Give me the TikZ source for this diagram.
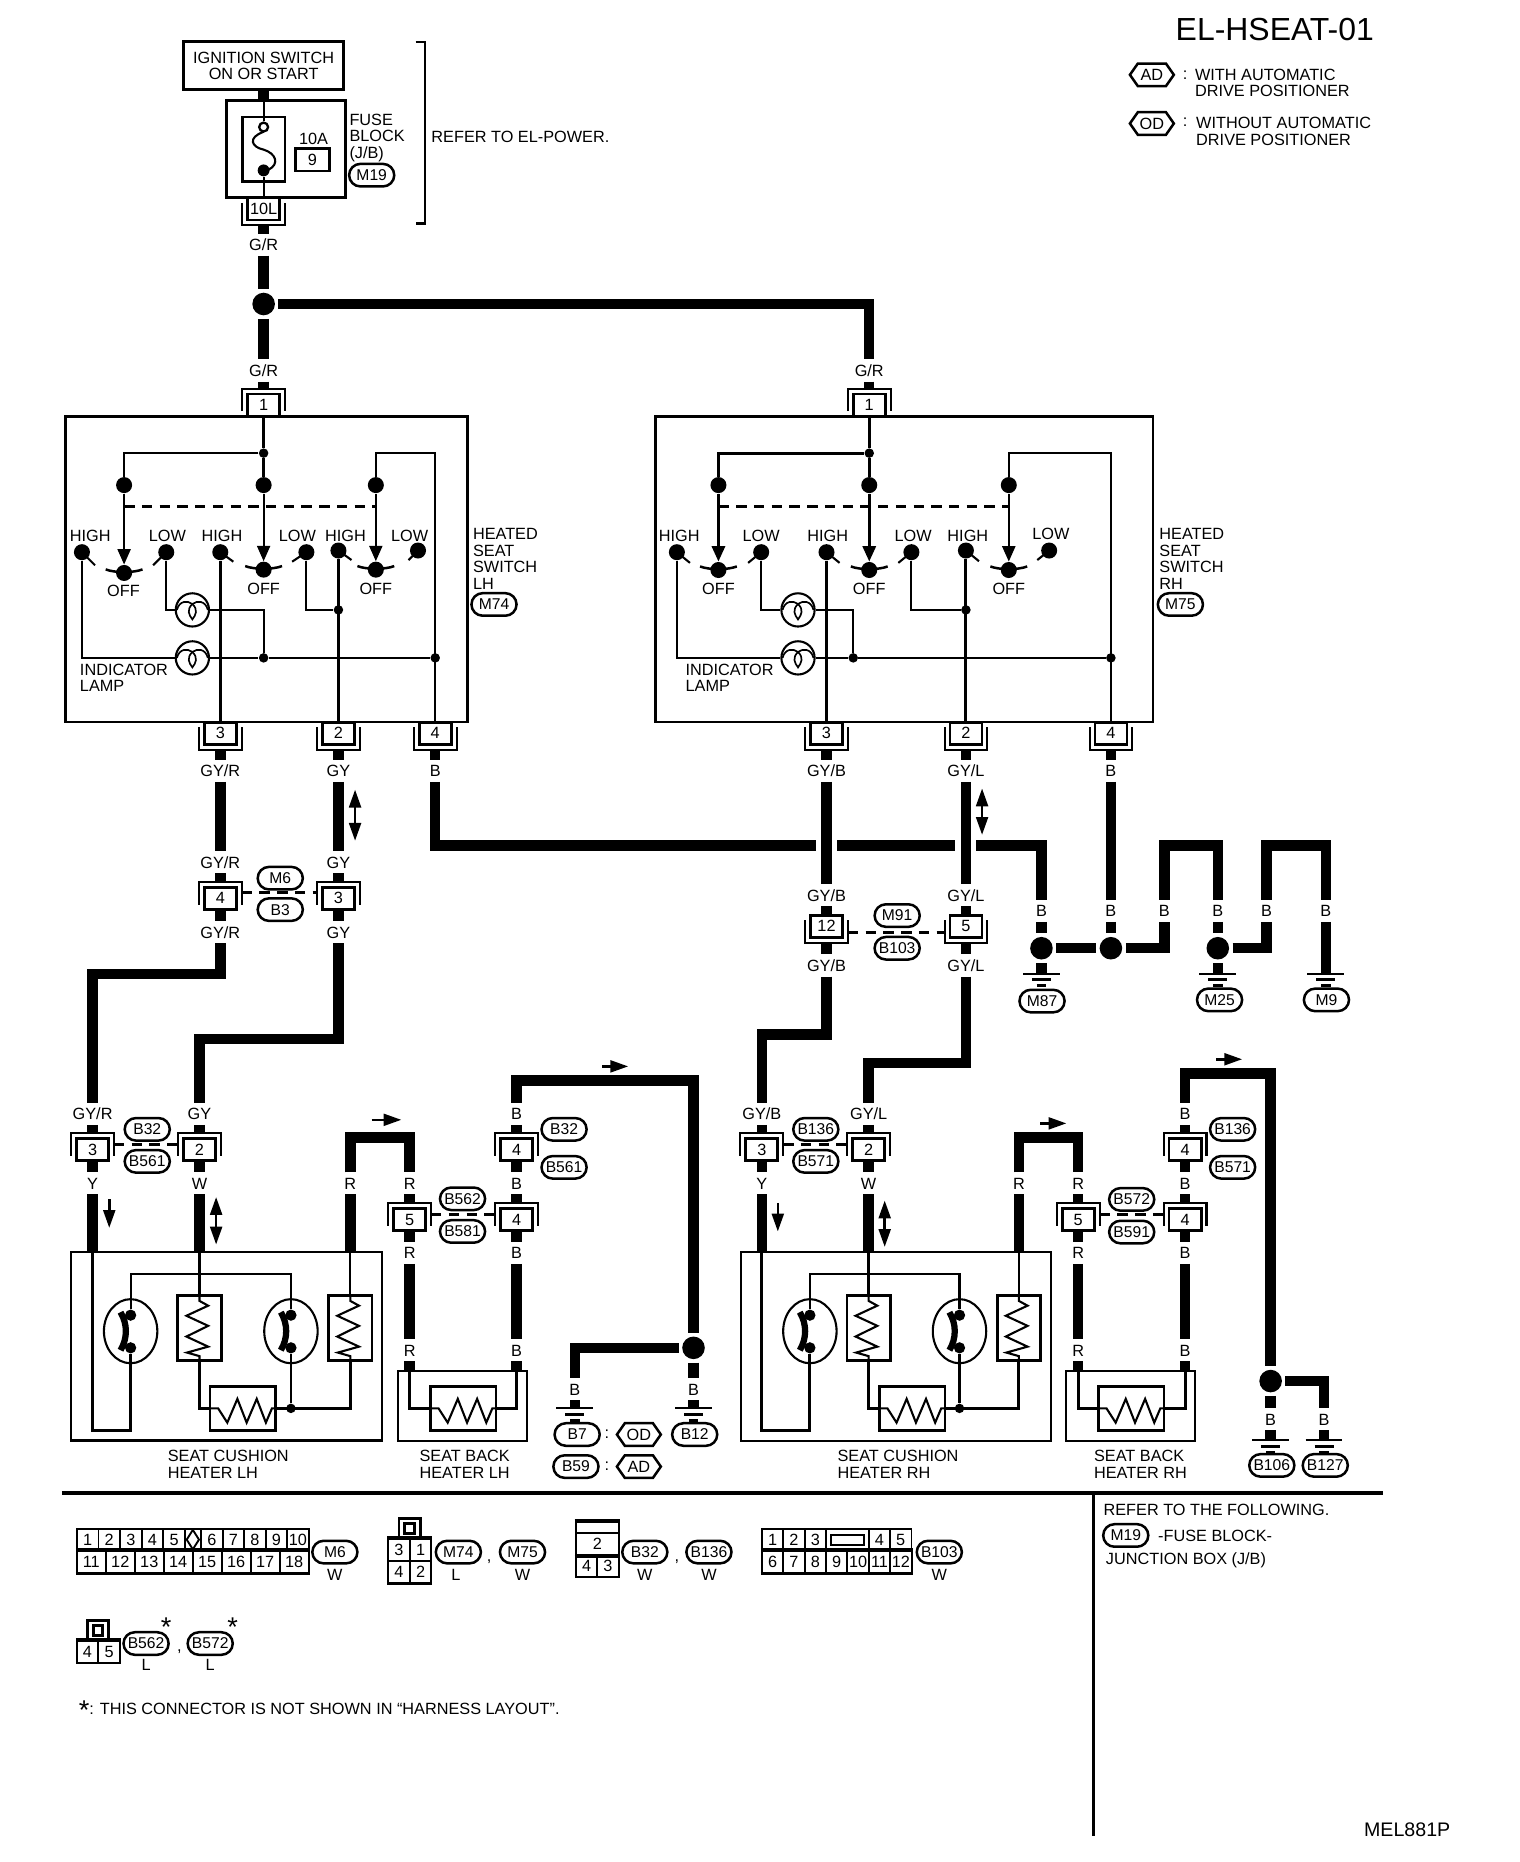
\documentclass[tikz,border=0pt]{standalone}
\usepackage{fontspec}
\setmainfont{Liberation Sans}
\usetikzlibrary{arrows.meta, positioning, backgrounds, shapes.geometric, shapes.misc, shapes.symbols}

\tikzset{
  every node/.style={font=\fontsize{7.8}{7.9}\selectfont},
  wire/.style={line width=5pt},
  crosswire/.style={line width=5pt, preaction={draw=white, line width=10pt}},
  thinw/.style={line width=1pt},
  midw/.style={line width=1.4pt},
  dashes/.style={line width=1.6pt, dash pattern=on 5pt off 3.5pt},
  lbl/.style={inner sep=0pt, minimum height=.36cm, text height=5.8pt, text depth=0pt},
  txt/.style={inner sep=0pt, anchor=west, align=left},
  capt/.style={inner sep=0pt, align=center},
  connbox/.style={draw, fill=white, line width=1.3pt, minimum width=.54cm, minimum height=.37cm, inner sep=0pt, outer sep=.09cm},
  connrim/.style={line width=1pt},
  boxline/.style={draw, line width=1.4pt, inner sep=0pt},
  sdot/.style={circle, fill=black, inner sep=0pt, minimum size=.27cm},
  jdot/.style={circle, fill=black, inner sep=0pt, minimum size=.16cm},
  tdot/.style={circle, fill=black, inner sep=0pt, minimum size=.19cm},
  splice/.style={circle, fill=black, inner sep=0pt, minimum size=.38cm, outer sep=.06cm},
  lamp/.style={circle, draw, fill=white, line width=1pt, inner sep=0pt, minimum size=.56cm},
  tag/.style={rounded rectangle, draw, line width=1.2pt, minimum width=.76cm, minimum height=.38cm, inner sep=0pt, font=\fontsize{7.5}{8}\selectfont},
  hexa/.style={signal, signal to=east and west, signal pointer angle=110, draw, line width=1.2pt, minimum width=.74cm, minimum height=.38cm, inner sep=0pt},
  cellbox/.style={draw, line width=.9pt, inner sep=0pt, minimum width=.364cm, minimum height=.37cm},
  swtip/.style={-{Triangle[width=.22cm,length=.26cm]}},
  flowone/.style={line width=1.2pt, -{Triangle[width=.2cm,length=.3cm]}},
  flowtwo/.style={line width=1.2pt, {Triangle[width=.2cm,length=.3cm]}-{Triangle[width=.2cm,length=.3cm]}},
  offarm/.pic={\draw[line width=1.2pt] (-15.5,-3) .. controls (-8,0) and (8,0) .. (15.5,-3);},
  lampmark/.pic={
    \draw[line width=.8pt] (-13,0) .. controls (-11,-8) and (-4,-8) .. (0,-5) .. controls (4,-8) and (11,-8) .. (13,0);
    \draw[line width=.8pt] (0,-5) .. controls (-5,0) and (-3,4) .. (0,8) .. controls (3,4) and (5,0) .. (0,-5);
  },
  thermal/.pic={
    \draw[line width=3pt] (-8.5,-16) .. controls (-2.5,-6) and (-2.5,6) .. (-8.5,16);
  },
  zigv/.pic={
    \draw[thinw] (0,-27.5) -- (0,-23) -- (7.3,-19) -- (-11,-10.5) -- (7.3,-2) -- (-11,7) -- (7.3,15.5) -- (-10.5,20.5) -- (0,23.5) -- (0,27.5);
  },
  zigh/.pic={
    \draw[thinw] (-27.7,0) -- (-20.7,0) -- (-13,12) -- (-4.5,-8) -- (3.3,12) -- (11.8,-8) -- (19.5,12) -- (24.6,0) -- (27.7,0);
  },
}

\newcommand{\connlow}[3]{
  \node[connbox] (#1) at (#2) {#3};
  \draw[connrim] ([yshift=.38cm]#1.south west) -- (#1.south west) -- (#1.south east) -- ([yshift=.38cm]#1.south east);
}
\newcommand{\connhigh}[3]{
  \node[connbox] (#1) at (#2) {#3};
  \draw[connrim] ([yshift=-.38cm]#1.north west) -- (#1.north west) -- (#1.north east) -- ([yshift=-.38cm]#1.north east);
}
\newcommand{\gndmark}[2]{
  \coordinate (#1) at (#2);
  \draw[line width=1pt] ([xshift=-.31cm]#1) -- ([xshift=.31cm]#1);
  \draw[line width=1.5pt] ([xshift=-.16cm,yshift=-.1cm]#1) -- ([xshift=.16cm,yshift=-.1cm]#1);
  \draw[line width=1.5pt] ([xshift=-.08cm,yshift=-.2cm]#1) -- ([xshift=.08cm,yshift=-.2cm]#1);
}

\begin{document}
\begin{tikzpicture}[x=0.02cm, y=-0.02cm]
\useasboundingbox (0,0) rectangle (1280,1568);

% Title and legend
\node[inner sep=0pt, font=\fontsize{15.3}{16}\selectfont] (title) at (1073.5,25) {EL-HSEAT-01};
\node[hexa] (legAD) at (970,63) {AD};
\node[inner sep=0pt] (colAD) at (998,63) {:};
\node[txt] (legADt) at (1006,70) {WITH AUTOMATIC\\DRIVE POSITIONER};
\node[hexa] (legOD) at (970,104) {OD};
\node[inner sep=0pt] (colOD) at (998,103) {:};
\node[txt] (legODt) at (1007,110.5) {WITHOUT AUTOMATIC\\DRIVE POSITIONER};

% Power feed
\node[boxline, minimum width=2.7cm, minimum height=.81cm, align=center] (ign) at (222,55.5) {IGNITION SWITCH\\ON OR START};
\node[boxline, minimum width=2cm, minimum height=1.62cm] (fuse) at (241,125.5) {};
\node[boxline, minimum width=.72cm, minimum height=1.08cm] (fusein) at (222,125.5) {};
\node[circle, draw, line width=1.1pt, inner sep=0pt, minimum size=.15cm] (fuopen) at (222,107) {};
\node[circle, fill=black, inner sep=0pt, minimum size=.2cm] (fudot) at (222,143.5) {};
\draw[thinw] (222,111) .. controls (208,116) and (212,124) .. (222,126) .. controls (232,129) and (236,138) .. (226,143);
\node[inner sep=0pt] (famp) at (264,117) {10A};
\node[boxline, minimum width=.58cm, minimum height=.38cm] (fnum) at (263,134.5) {9};
\node[txt] (fname) at (294,116) {FUSE\\BLOCK\\(J/B)};
\node[tag] (tM19a) at (313,147.5) {M19};
\draw[line width=1.2pt] (350,35.5) -- (358,35.5) -- (358,188) -- (350,188);
\node[txt] (referp) at (363,115) {REFER TO EL-POWER.};
\connlow{c10L}{222,176}{10L}
\node[lbl] (lGRa) at (222,206) {G/R};
\node[splice] (splA) at (222,256) {};
\node[lbl] (lGRb) at (222,312) {G/R};
\node[lbl] (lGRc) at (732,312) {G/R};
\connhigh{c1L}{222,341}{1}
\connhigh{c1R}{732,341}{1}

% Switch LH
\node[boxline, minimum width=6.78cm, minimum height=5.14cm] (swboxL) at (224.5,479.5) {};
\node[jdot] (jtL) at (222,381.6) {};
\node[sdot] (swLa) at (104.5,408.5) {};
\node[sdot] (swLb) at (222,408.5) {};
\node[sdot] (swLc) at (316.5,408.5) {};
\coordinate (dashL) at (200,426.8);
\coordinate (cornL) at (340,381.6);
\node[sdot] (offLa) at (104.5,482.5) {};
\node[sdot] (offLb) at (222,479.7) {};
\node[sdot] (offLc) at (316.5,479.7) {};
\pic at (offLa) {offarm};
\pic at (offLb) {offarm};
\pic at (offLc) {offarm};
\node[sdot] (hiLa) at (69,465) {};
\node[sdot] (loLa) at (140,465) {};
\node[sdot] (hiLb) at (185.5,465) {};
\node[sdot] (loLb) at (258,465) {};
\node[sdot] (hiLc) at (285,463.6) {};
\node[sdot] (loLc) at (352,463.6) {};
\draw[thinw] (hiLa.center) -- ++(11,11);
\draw[thinw] (loLa.center) -- ++(-11,11);
\draw[thinw] (hiLb.center) -- ++(11,8);
\draw[thinw] (loLb.center) -- ++(-12,8);
\draw[thinw] (hiLc.center) -- ++(11,8);
\draw[thinw] (loLc.center) -- ++(-8,8);
\node[inner sep=0pt] (tHiLa) at (76,451) {HIGH};
\node[inner sep=0pt] (tLoLa) at (141,451) {LOW};
\node[inner sep=0pt] (tHiLb) at (187,451) {HIGH};
\node[inner sep=0pt] (tLoLb) at (250.5,451) {LOW};
\node[inner sep=0pt] (tHiLc) at (291,451) {HIGH};
\node[inner sep=0pt] (tLoLc) at (345,451) {LOW};
\node[inner sep=0pt] (tOfLa) at (104,497.5) {OFF};
\node[inner sep=0pt] (tOfLb) at (222,496) {OFF};
\node[inner sep=0pt] (tOfLc) at (316.5,496) {OFF};
\node[lamp] (lampLa) at (162,513.6) {};
\node[lamp] (lampLb) at (162,554) {};
\pic at (lampLa) {lampmark};
\pic at (lampLb) {lampmark};
\node[jdot] (jmL) at (222,554) {};
\node[jdot] (jeL) at (366.5,554) {};
\node[jdot] (jgL) at (285,513.6) {};
\node[txt] (tIndL) at (67,571) {INDICATOR\\LAMP};
\node[txt] (tSwL) at (398,470.5) {HEATED\\SEAT\\SWITCH\\LH};
\node[tag] (tM74) at (416,509) {M74};
\connlow{c3L}{185.5,617.5}{3}
\connlow{c2L}{285,617.5}{2}
\connlow{c4L}{366.5,617.5}{4}

% Switch RH
\node[boxline, minimum width=8.38cm, minimum height=5.14cm] (swboxR) at (761.5,479.5) {};
\node[jdot] (jtR) at (732,381.6) {};
\node[sdot] (swRa) at (605,408.5) {};
\node[sdot] (swRb) at (732,408.5) {};
\node[sdot] (swRc) at (849.5,408.5) {};
\coordinate (dashR) at (700,426.8);
\coordinate (cornR) at (890,381.6);
\node[sdot] (offRa) at (605,480) {};
\node[sdot] (offRb) at (732,480) {};
\node[sdot] (offRc) at (849.5,480) {};
\pic at (offRa) {offarm};
\pic at (offRb) {offarm};
\pic at (offRc) {offarm};
\node[sdot] (hiRa) at (570,465) {};
\node[sdot] (loRa) at (641,465) {};
\node[sdot] (hiRb) at (696,465) {};
\node[sdot] (loRb) at (767.5,465) {};
\node[sdot] (hiRc) at (813.4,463.6) {};
\node[sdot] (loRc) at (883.5,463.6) {};
\draw[thinw] (hiRa.center) -- ++(11,9);
\draw[thinw] (loRa.center) -- ++(-11,9);
\draw[thinw] (hiRb.center) -- ++(11,9);
\draw[thinw] (loRb.center) -- ++(-11,9);
\draw[thinw] (hiRc.center) -- ++(11,9);
\draw[thinw] (loRc.center) -- ++(-10,8);
\node[inner sep=0pt] (tHiRa) at (572,451) {HIGH};
\node[inner sep=0pt] (tLoRa) at (641,451) {LOW};
\node[inner sep=0pt] (tHiRb) at (697,451) {HIGH};
\node[inner sep=0pt] (tLoRb) at (769,451) {LOW};
\node[inner sep=0pt] (tHiRc) at (815,451) {HIGH};
\node[inner sep=0pt] (tLoRc) at (885,450) {LOW};
\node[inner sep=0pt] (tOfRa) at (605,496) {OFF};
\node[inner sep=0pt] (tOfRb) at (732,496) {OFF};
\node[inner sep=0pt] (tOfRc) at (849.5,496) {OFF};
\node[lamp] (lampRa) at (672,513.6) {};
\node[lamp] (lampRb) at (672,554) {};
\pic at (lampRa) {lampmark};
\pic at (lampRb) {lampmark};
\node[jdot] (jmR) at (718.5,554) {};
\node[jdot] (jeR) at (935.5,554) {};
\node[jdot] (jgR) at (813.4,513.6) {};
\node[txt] (tIndR) at (577,571) {INDICATOR\\LAMP};
\node[txt] (tSwR) at (976,470.5) {HEATED\\SEAT\\SWITCH\\RH};
\node[tag] (tM75) at (994,509) {M75};
\connlow{c3R}{696,617.5}{3}
\connlow{c2R}{813.4,617.5}{2}
\connlow{c4R}{935.5,617.5}{4}

% Harness below the switches LH
\node[lbl] (lGYRa) at (185.5,649) {GY/R};
\node[lbl] (lGYa) at (285,649) {GY};
\node[lbl] (lBa) at (366.5,649) {B};
\node[lbl] (lGYRb) at (185.5,726) {GY/R};
\node[lbl] (lGYb) at (285,726) {GY};
\connhigh{cM4}{185.5,756.5}{4}
\connhigh{cM3}{285,756.5}{3}
\node[tag] (tM6) at (236,739.5) {M6};
\node[tag] (tB3) at (236,766) {B3};
\node[lbl] (lGYRc) at (185.5,785) {GY/R};
\node[lbl] (lGYc) at (285,785) {GY};
\coordinate (bRun) at (600,712);
\coordinate (cGYR) at (130,820);
\coordinate (cGY) at (225,875);
\draw[flowtwo] (299,665) -- (299,708);

% Harness below the switches RH
\node[lbl] (lGYBa) at (696,649) {GY/B};
\node[lbl] (lGYLa) at (813.4,649) {GY/L};
\node[lbl] (lBb) at (935.5,649) {B};
\node[lbl] (lGYBb) at (696,754) {GY/B};
\node[lbl] (lGYLb) at (813.4,754) {GY/L};
\connlow{cM12}{696,780}{12}
\connlow{cM5}{813.4,780}{5}
\node[tag] (tM91) at (755.5,771) {M91};
\node[tag] (tB103) at (755.5,798.5) {B103};
\node[lbl] (lGYBc) at (696,813) {GY/B};
\node[lbl] (lGYLc) at (813.4,813) {GY/L};
\coordinate (cGYB) at (670,871);
\coordinate (cGYL) at (770,895);
\draw[flowtwo] (827,664) -- (827,703);

% Earth points top right
\node[lbl] (lBg1) at (877,767) {B};
\node[lbl] (lBg2) at (935.5,767) {B};
\node[lbl] (lBg3) at (980.5,767) {B};
\node[lbl] (lBg4) at (1025.5,767) {B};
\node[lbl] (lBg5) at (1066.5,767) {B};
\node[lbl] (lBg6) at (1116.5,767) {B};
\node[splice] (splG1) at (877,798.5) {};
\node[splice] (splG2) at (935.5,798.5) {};
\node[splice] (splG3) at (1025.5,798.5) {};
\coordinate (bHop1) at (1000,712);
\coordinate (bHop2) at (1090,712);
\gndmark{gM87}{877,820}
\gndmark{gM25}{1025.5,820}
\gndmark{gM9}{1116.5,820}
\node[tag] (tM87) at (877.5,843) {M87};
\node[tag] (tM25) at (1027,842) {M25};
\node[tag] (tM9) at (1117,842) {M9};

% Heaters LH
\node[lbl] (lGYRd) at (78,938) {GY/R};
\node[lbl] (lGYd) at (168,938) {GY};
\connhigh{cq3}{78,968}{3}
\connhigh{cq2}{168,968}{2}
\node[tag] (tB32a) at (124,951) {B32};
\node[tag] (tB561a) at (124,978) {B561};
\node[lbl] (lYL) at (78,996.5) {Y};
\node[lbl] (lWL) at (168,996.5) {W};
\node[lbl] (lRa) at (295,996.5) {R};
\node[lbl] (lRb) at (345,996.5) {R};
\coordinate (cRL) at (320,958);
\draw[flowone] (313,943) -- (338,943);
\draw[flowone] (92,1010) -- (92,1034);
\draw[flowtwo] (182,1008) -- (182,1048);
\connhigh{csl5}{345,1027}{5}
\connhigh{csl4}{435,1027}{4}
\node[tag] (tB562) at (389.5,1009.5) {B562};
\node[tag] (tB581) at (389.5,1037) {B581};
\node[lbl] (lRc) at (345,1055) {R};
\node[lbl] (lRd) at (345,1137) {R};
\node[lbl] (lBc) at (435,938) {B};
\connhigh{cq4}{435,968}{4}
\node[tag] (tB32b) at (475,951) {B32};
\node[tag] (tB561b) at (475,983) {B561};
\node[lbl] (lBd) at (435,996.5) {B};
\node[lbl] (lBe) at (435,1055) {B};
\node[lbl] (lBf) at (435,1137) {B};
\coordinate (cBL) at (510,910);
\draw[flowone] (507,898) -- (529,898);
\node[splice] (splB) at (584,1135) {};
\node[lbl] (lBh) at (484,1170) {B};
\node[lbl] (lBi) at (584,1170) {B};
\gndmark{gB7}{484,1186}
\gndmark{gB12}{584,1186}
\node[tag] (tB7) at (486,1208) {B7};
\node[inner sep=0pt] (colB7) at (511,1208) {:};
\node[hexa] (hexOD) at (538,1208) {OD};
\node[tag] (tB12) at (585,1208) {B12};
\node[tag] (tB59) at (485,1235) {B59};
\node[inner sep=0pt] (colB59) at (511,1235) {:};
\node[hexa] (hexAD) at (538,1235) {AD};
\node[draw, line width=1.1pt, minimum width=5.24cm, minimum height=3.18cm] (heatL) at (191,1133.5) {};
\node[ellipse, draw, line width=1pt, inner sep=0pt, minimum width=.9cm, minimum height=1.08cm] (elA) at (110,1121) {};
\node[ellipse, draw, line width=1pt, inner sep=0pt, minimum width=.9cm, minimum height=1.08cm] (elB) at (245,1121) {};
\node[tdot] (tdA1) at (110,1107.5) {};
\node[tdot] (tdA2) at (110,1135) {};
\node[tdot] (tdB1) at (245,1107.5) {};
\node[tdot] (tdB2) at (245,1135) {};
\pic at (elA) {thermal};
\pic at (elB) {thermal};
\node[boxline, minimum width=.73cm, minimum height=1.1cm] (resA) at (168,1118.5) {};
\node[boxline, minimum width=.73cm, minimum height=1.1cm] (resB) at (295,1118.5) {};
\pic at (resA) {zigv};
\pic at (resB) {zigv};
\node[draw, line width=1.1pt, inner sep=0pt, minimum width=1.1cm, minimum height=.74cm] (smA) at (204.4,1186) {};
\pic at (smA) {zigh};
\node[jdot] (jA) at (245,1186) {};
\coordinate (cLowL) at (90,1204.5);
\coordinate (cTopL) at (180,1073);
\node[draw, line width=1.1pt, minimum width=2.17cm, minimum height=1.19cm] (backL) at (389.6,1184) {};
\node[draw, line width=1.1pt, inner sep=0pt, minimum width=1.1cm, minimum height=.74cm] (smBL) at (390,1186) {};
\pic at (smBL) {zigh};
\node[txt] (tCushL) at (141,1233) {SEAT CUSHION\\HEATER LH};
\node[txt] (tBackL) at (353,1233) {SEAT BACK\\HEATER LH};

% Heaters RH
\node[lbl] (lGYBd) at (641.5,938) {GY/B};
\node[lbl] (lGYLd) at (731.5,938) {GY/L};
\connhigh{cr3}{641.5,968}{3}
\connhigh{cr2}{731.5,968}{2}
\node[tag] (tB136a) at (687,951) {B136};
\node[tag] (tB571a) at (687,978) {B571};
\node[lbl] (lYR) at (641.5,996.5) {Y};
\node[lbl] (lWR) at (731.5,996.5) {W};
\node[lbl] (lRe) at (858,996.5) {R};
\node[lbl] (lRf) at (908,996.5) {R};
\coordinate (cRR) at (880,958);
\draw[flowone] (876,946) -- (898,946);
\draw[flowone] (655,1013) -- (655,1037);
\draw[flowtwo] (745,1011) -- (745,1050);
\connhigh{csr5}{908,1027}{5}
\connhigh{csr4}{998,1027}{4}
\node[tag] (tB572) at (953,1010) {B572};
\node[tag] (tB591) at (953,1037.5) {B591};
\node[lbl] (lRg) at (908,1055) {R};
\node[lbl] (lRh) at (908,1137) {R};
\node[lbl] (lBj) at (998,938) {B};
\connhigh{cr4}{998,968}{4}
\node[tag] (tB136b) at (1038,951) {B136};
\node[tag] (tB571b) at (1038,983) {B571};
\node[lbl] (lBk) at (998,996.5) {B};
\node[lbl] (lBl) at (998,1055) {B};
\node[lbl] (lBm) at (998,1137) {B};
\coordinate (cBR) at (1040,904);
\draw[flowone] (1024,892) -- (1046,892);
\node[splice] (splC) at (1070,1163) {};
\node[lbl] (lBn) at (1070,1195) {B};
\node[lbl] (lBo) at (1115,1195) {B};
\gndmark{gB106}{1070,1213}
\gndmark{gB127}{1115,1213}
\node[tag] (tB106) at (1071,1234) {B106};
\node[tag] (tB127) at (1116,1234) {B127};
\node[draw, line width=1.1pt, minimum width=5.23cm, minimum height=3.18cm] (heatR) at (754.5,1134) {};
\node[ellipse, draw, line width=1pt, inner sep=0pt, minimum width=.9cm, minimum height=1.08cm] (elC) at (682,1121) {};
\node[ellipse, draw, line width=1pt, inner sep=0pt, minimum width=.9cm, minimum height=1.08cm] (elD) at (808,1121) {};
\node[tdot] (tdC1) at (682,1107.5) {};
\node[tdot] (tdC2) at (682,1135) {};
\node[tdot] (tdD1) at (808,1107.5) {};
\node[tdot] (tdD2) at (808,1135) {};
\pic at (elC) {thermal};
\pic at (elD) {thermal};
\node[boxline, minimum width=.73cm, minimum height=1.1cm] (resC) at (731.5,1118.5) {};
\node[boxline, minimum width=.73cm, minimum height=1.1cm] (resD) at (858,1118.5) {};
\pic at (resC) {zigv};
\pic at (resD) {zigv};
\node[draw, line width=1.1pt, inner sep=0pt, minimum width=1.1cm, minimum height=.74cm] (smC) at (768,1186) {};
\pic at (smC) {zigh};
\node[jdot] (jB) at (808,1186) {};
\coordinate (cLowR) at (660,1204.5);
\coordinate (cTopR) at (750,1073);
\node[draw, line width=1.1pt, minimum width=2.17cm, minimum height=1.19cm] (backR) at (952,1184) {};
\node[draw, line width=1.1pt, inner sep=0pt, minimum width=1.1cm, minimum height=.74cm] (smBR) at (952.5,1186) {};
\pic at (smBR) {zigh};
\node[txt] (tCushR) at (705,1233) {SEAT CUSHION\\HEATER RH};
\node[txt] (tBackR) at (921,1233) {SEAT BACK\\HEATER RH};

% Rules
\draw[line width=1.8pt] (52,1257) -- (1165,1257);
\draw[line width=1.2pt] (921,1257) -- (921,1546);

% Connector faces
\foreach \n [count=\i from 0] in {1,...,5}
  \node[cellbox] (fa\n) at ({73.8+\i*18.2},1296.5) {\n};
\node[cellbox, minimum width=.28cm] (fadia) at (162.4,1296.5) {};
\node[diamond, draw, line width=.9pt, inner sep=0pt, minimum width=.22cm, minimum height=.34cm] (fadiam) at (162.4,1296.5) {};
\foreach \n [count=\i from 0] in {6,...,10}
  \node[cellbox] (fa\n) at ({178.5+\i*18.1},1296.5) {\n};
\foreach \n [count=\i from 0] in {11,...,18}
  \node[cellbox, minimum width=.488cm] (fa\n) at ({76.9+\i*24.4},1315) {\n};
\draw[line width=1.8pt] (fa11.south west) -- (fa18.south east);
\draw[line width=1.4pt] (fa11.north west) -- (fa18.north east);
\node[tag] (fM6) at (282,1307) {M6};
\node[inner sep=0pt] (fM6w) at (282,1326) {W};

\node[boxline, minimum width=.36cm, minimum height=.34cm] (fbtab) at (345,1287) {};
\node[draw, line width=1.4pt, inner sep=0pt, minimum size=.16cm] (fbtin) at (345,1287) {};
\node[cellbox] (fb3) at (336,1305) {3};
\node[cellbox] (fb1) at (354.2,1305) {1};
\node[cellbox] (fb4) at (336,1323.5) {4};
\node[cellbox] (fb2) at (354.2,1323.5) {2};
\draw[line width=1.5pt] (fb3.north west) -- (fb1.north east);
\draw[line width=1.5pt] (fb4.south west) -- (fb2.south east);
\node[tag] (fM74) at (386,1307) {M74};
\node[inner sep=0pt] (fM74l) at (384,1326) {L};
\node[inner sep=0pt] (fcoma) at (412,1315) {,};
\node[tag] (fM75) at (440,1307) {M75};
\node[inner sep=0pt] (fM75w) at (440,1326) {W};

\node[cellbox, minimum width=.73cm, minimum height=.18cm] (fctop) at (503,1286) {};
\node[cellbox, minimum width=.73cm, minimum height=.38cm] (fc2) at (503,1300.2) {2};
\node[cellbox] (fc4) at (494,1319) {4};
\node[cellbox] (fc3) at (512,1319) {3};
\draw[line width=1.5pt] (fctop.north west) -- (fctop.north east);
\draw[line width=1.5pt] (fc2.south west) -- (fc2.south east);
\node[tag] (fB32) at (543,1307) {B32};
\node[inner sep=0pt] (fB32w) at (543,1326) {W};
\node[inner sep=0pt] (fcomb) at (570,1315) {,};
\node[tag] (fB136) at (597,1307) {B136};
\node[inner sep=0pt] (fB136w) at (597,1326) {W};

\foreach \n [count=\i from 0] in {1,2,3}
  \node[cellbox] (fd\n) at ({650.6+\i*18},1296.5) {\n};
\node[cellbox, minimum width=.72cm] (fdslot) at (713.5,1296.5) {};
\node[draw, line width=1pt, inner sep=0pt, minimum width=.56cm, minimum height=.17cm] (fdslin) at (713.5,1296.5) {};
\foreach \n [count=\i from 0] in {4,5}
  \node[cellbox] (fd\n) at ({740.5+\i*18},1296.5) {\n};
\foreach \n [count=\i from 0] in {6,...,12}
  \node[cellbox] (fd\n) at ({650.6+\i*18},1315) {\n};
\draw[line width=1.8pt] (fd6.south west) -- (fd12.south east);
\draw[line width=1.4pt] (fd6.north west) -- (fd12.north east);
\node[tag] (fB103) at (791,1307) {B103};
\node[inner sep=0pt] (fB103w) at (791,1326) {W};

\node[boxline, minimum width=.36cm, minimum height=.34cm] (fetab) at (82.7,1373) {};
\node[draw, line width=1.4pt, inner sep=0pt, minimum size=.16cm] (fetin) at (82.7,1373) {};
\node[cellbox] (fe4) at (73.7,1391) {4};
\node[cellbox] (fe5) at (91.9,1391) {5};
\draw[line width=1.5pt] (fe4.north west) -- (fe5.north east);
\node[tag] (fB562) at (123,1384) {B562};
\node[inner sep=0pt, font=\fontsize{13}{13}\selectfont] (fst1) at (140,1370) {*};
\node[inner sep=0pt] (fB562l) at (123,1402) {L};
\node[inner sep=0pt] (fcomc) at (151,1391) {,};
\node[tag] (fB572) at (177,1384) {B572};
\node[inner sep=0pt, font=\fontsize{13}{13}\selectfont] (fst2) at (196,1370) {*};
\node[inner sep=0pt] (fB572l) at (177,1402) {L};
\node[txt] (ffoot) at (66,1440.5) {\raisebox{-2.5pt}{\fontsize{13}{13}\selectfont *}: THIS CONNECTOR IS NOT SHOWN IN “HARNESS LAYOUT”.};

% Notes right
\node[txt] (nRef) at (929,1271.5) {REFER TO THE FOLLOWING.};
\node[tag] (nM19) at (948,1293) {M19};
\node[txt] (nFuse) at (975,1293) {-FUSE BLOCK-};
\node[txt] (nJunc) at (931,1314) {JUNCTION BOX (J/B)};
\node[inner sep=0pt, font=\fontsize{9.4}{10}\selectfont] (tCode) at (1185,1541) {MEL881P};

% Wires go behind all the boxes
\begin{scope}[on background layer]
  % feed
  \draw[wire] (ign) -- (ign |- fuse.north);
  \draw[thinw] (ign |- fuse.north) -- (fuopen);
  \draw[thinw] (fudot) -- (c10L.center);
  \draw[wire] (c10L) -- (lGRa);
  \draw[wire] (lGRa) -- (splA);
  \draw[wire] (splA) -- (lGRb);
  \draw[wire] (lGRb) -- (c1L);
  \draw[wire] (splA) -| (lGRc);
  \draw[wire] (lGRc) -- (c1R);
  % inside LH
  \draw[midw] (c1L.center) -- (jtL);
  \draw[midw] (jtL) -- (swLb);
  \draw[thinw] (jtL) -| (swLa);
  \draw[thinw] (swLc) |- (cornL) -| (c4L.center);
  \draw[thinw,swtip] (swLa) -- (offLa);
  \draw[thinw,swtip] (swLb) -- (offLb);
  \draw[thinw,swtip] (swLc) -- (offLc);
  \draw[dashes] (swLa |- dashL) -- (swLc |- dashL);
  \draw[thinw] (hiLa) |- (lampLb);
  \draw[thinw] (lampLb) -- (jmL);
  \draw[thinw] (jmL) -- (jeL);
  \draw[thinw] (loLa) |- (lampLa);
  \draw[thinw] (lampLa) -| (jmL);
  \draw[midw] (hiLb) -- (c3L.center);
  \draw[midw] (hiLc) -- (c2L.center);
  \draw[thinw] (loLb) |- (jgL);
  % inside RH
  \draw[midw] (c1R.center) -- (jtR);
  \draw[midw] (jtR) -- (swRb);
  \draw[midw] (jtR) -| (swRa);
  \draw[thinw] (swRc) |- (cornR) -| (c4R.center);
  \draw[midw,swtip] (swRa) -- (offRa);
  \draw[midw,swtip] (swRb) -- (offRb);
  \draw[thinw,swtip] (swRc) -- (offRc);
  \draw[dashes] (swRa |- dashR) -- (swRc |- dashR);
  \draw[thinw] (hiRa) |- (lampRb);
  \draw[thinw] (lampRb) -- (jmR);
  \draw[thinw] (jmR) -- (jeR);
  \draw[thinw] (loRa) |- (lampRa);
  \draw[thinw] (lampRa) -| (jmR);
  \draw[thinw] (hiRb) -- (c3R.center);
  \draw[midw] (hiRc) -- (c2R.center);
  \draw[thinw] (loRb) |- (jgR);
  % harness LH
  \draw[wire] (c3L) -- (lGYRa);
  \draw[wire] (c2L) -- (lGYa);
  \draw[wire] (c4L) -- (lBa);
  \draw[wire] (lGYRa) -- (lGYRb);
  \draw[wire] (lGYa) -- (lGYb);
  \draw[wire] (lGYRb) -- (cM4);
  \draw[wire] (lGYb) -- (cM3);
  \draw[wire] (cM4.center) -- (lGYRc);
  \draw[wire] (cM3.center) -- (lGYc);
  \draw[dashes] ([yshift=.095cm]cM4.east) -- ([yshift=.095cm]cM3.west);
  \draw[wire] (lGYRc) |- (cGYR) -| (lGYRd);
  \draw[wire] (lGYc) |- (cGY) -| (lGYd);
  % earth run
  \draw[wire] (lBa) |- (bRun) -| (lBg1);
  % harness RH
  \draw[wire] (c3R) -- (lGYBa);
  \draw[wire] (c2R) -- (lGYLa);
  \draw[wire] (c4R) -- (lBb);
  \draw[crosswire] (lGYBa) -- (lGYBb);
  \draw[crosswire] (lGYLa) -- (lGYLb);
  \draw[wire] (lGYBb) -- (cM12.center);
  \draw[wire] (lGYLb) -- (cM5.center);
  \draw[wire] (cM12) -- (lGYBc);
  \draw[wire] (cM5) -- (lGYLc);
  \draw[dashes] ([yshift=-.1cm]cM12.east) -- ([yshift=-.1cm]cM5.west);
  \draw[wire] (lGYBc) |- (cGYB) -| (lGYBd);
  \draw[wire] (lGYLc) |- (cGYL) -| (lGYLd);
  % earth points
  \draw[wire] (lBb) -- (lBg2);
  \draw[wire] (lBg1) -- (splG1);
  \draw[wire] (lBg2) -- (splG2);
  \draw[wire] (splG1) -- (splG2);
  \draw[wire] (splG2) -| (lBg3);
  \draw[wire] (lBg3) |- (bHop1) -| (lBg4);
  \draw[wire] (lBg4) -- (splG3);
  \draw[wire] (splG3) -| (lBg5);
  \draw[wire] (lBg5) |- (bHop2) -| (lBg6);
  \draw[wire] (lBg6) -- (gM9);
  \draw[wire] (splG1) -- (gM87);
  \draw[wire] (splG3) -- (gM25);
  % heaters LH
  \draw[wire] (lGYRd) -- (cq3);
  \draw[wire] (lGYd) -- (cq2);
  \draw[wire] (cq3.center) -- (lYL);
  \draw[wire] (cq2.center) -- (lWL);
  \draw[dashes] ([yshift=.08cm]cq3.east) -- ([yshift=.08cm]cq2.west);
  \draw[wire] (lYL) -- (lYL |- heatL.north);
  \draw[wire] (lWL) -- (lWL |- heatL.north);
  \draw[wire] (lRa) -- (lRa |- heatL.north);
  \draw[wire] (lRa) |- (cRL) -| (lRb);
  \draw[wire] (lRb) -- (csl5);
  \draw[wire] (csl5.center) -- (lRc);
  \draw[wire] (lRc) -- (lRd);
  \draw[wire] (lRd) -- (lRd |- backL.north);
  \draw[dashes] ([yshift=.08cm]csl5.east) -- ([yshift=.08cm]csl4.west);
  \draw[wire] (lBc) -- (cq4);
  \draw[wire] (cq4.center) -- (lBd);
  \draw[wire] (lBd) -- (csl4);
  \draw[wire] (csl4.center) -- (lBe);
  \draw[wire] (lBe) -- (lBf);
  \draw[wire] (lBf) -- (lBf |- backL.north);
  \draw[wire] (lBc) |- (cBL) -| (splB);
  \draw[wire] (splB) -| (lBh);
  \draw[wire] (splB) -- (lBi);
  \draw[wire] (lBh) -- (gB7);
  \draw[wire] (lBi) -- (gB12);
  % cushion LH
  \draw[midw] (lYL |- heatL.north) |- (cLowL) -| (tdA2);
  \draw[thinw] (tdA1) |- (cTopL) -| (tdB1);
  \draw[thinw] (tdB2) -- (jA);
  \draw[midw] (lWL |- heatL.north) -- (resA);
  \draw[thinw] (lRa |- heatL.north) -- (resB);
  \draw[midw] (resA) |- (smA);
  \draw[midw] (resB) |- (smA);
  \draw[midw] (lRd |- backL.north) |- (smBL);
  \draw[midw] (lBf |- backL.north) |- (smBL);
  % heaters RH
  \draw[wire] (lGYBd) -- (cr3);
  \draw[wire] (lGYLd) -- (cr2);
  \draw[wire] (cr3.center) -- (lYR);
  \draw[wire] (cr2.center) -- (lWR);
  \draw[dashes] ([yshift=.08cm]cr3.east) -- ([yshift=.08cm]cr2.west);
  \draw[wire] (lYR) -- (lYR |- heatR.north);
  \draw[wire] (lWR) -- (lWR |- heatR.north);
  \draw[wire] (lRe) -- (lRe |- heatR.north);
  \draw[wire] (lRe) |- (cRR) -| (lRf);
  \draw[wire] (lRf) -- (csr5);
  \draw[wire] (csr5.center) -- (lRg);
  \draw[wire] (lRg) -- (lRh);
  \draw[wire] (lRh) -- (lRh |- backR.north);
  \draw[dashes] ([yshift=.08cm]csr5.east) -- ([yshift=.08cm]csr4.west);
  \draw[wire] (lBj) -- (cr4);
  \draw[wire] (cr4.center) -- (lBk);
  \draw[wire] (lBk) -- (csr4);
  \draw[wire] (csr4.center) -- (lBl);
  \draw[wire] (lBl) -- (lBm);
  \draw[wire] (lBm) -- (lBm |- backR.north);
  \draw[wire] (lBj) |- (cBR) -| (splC);
  \draw[wire] (splC) -- (lBn);
  \draw[wire] (splC) -| (lBo);
  \draw[wire] (lBn) -- (gB106);
  \draw[wire] (lBo) -- (gB127);
  % cushion RH
  \draw[midw] (lYR |- heatR.north) |- (cLowR) -| (tdC2);
  \draw[thinw] (tdC1) |- (cTopR) -| (tdD1);
  \draw[thinw] (tdD2) -- (jB);
  \draw[midw] (lWR |- heatR.north) -- (resC);
  \draw[thinw] (lRe |- heatR.north) -- (resD);
  \draw[midw] (resC) |- (smC);
  \draw[midw] (resD) |- (smC);
  \draw[midw] (lRh |- backR.north) |- (smBR);
  \draw[midw] (lBm |- backR.north) |- (smBR);
\end{scope}
\end{tikzpicture}
\end{document}
